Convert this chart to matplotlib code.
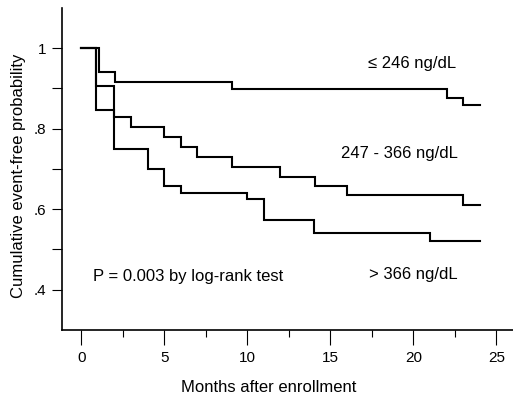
import matplotlib
matplotlib.use("Agg")
import matplotlib.pyplot as plt
from matplotlib.ticker import FixedLocator

plt.rcParams['font.family'] = ['Liberation Sans', 'DejaVu Sans']

# Data (Kaplan-Meier step curves)
t_low = [0, 1.1, 2.05, 9.07, 22.0, 23.0, 24]
s_low = [1.0, 0.94, 0.917, 0.899, 0.877, 0.858, 0.858]

t_mid = [0, 0.9, 2.0, 3.0, 5.0, 6.0, 7.0, 9.07, 12.0, 14.05, 16.0, 23.0, 24]
s_mid = [1.0, 0.907, 0.828, 0.804, 0.78, 0.755, 0.73, 0.706, 0.681, 0.658, 0.636, 0.611, 0.611]

t_high = [0, 0.9, 2.0, 4.0, 5.0, 6.0, 10.0, 11.0, 14.0, 21.0, 24]
s_high = [1.0, 0.846, 0.75, 0.699, 0.658, 0.641, 0.625, 0.574, 0.541, 0.52, 0.52]

labels = ["\u2264 246 ng/dL", "247 - 366 ng/dL", "> 366 ng/dL"]
x_ticks = [0, 5, 10, 15, 20, 25]
y_ticks = [0.4, 0.6, 0.8, 1.0]
y_ticklabels = [".4", ".6", ".8", "1"]

fig = plt.figure(figsize=(5.13, 3.97), dpi=100)
ax = fig.add_axes([0.1203, 0.1688, 0.8797, 0.8112])

for t, s in [(t_low, s_low), (t_mid, s_mid), (t_high, s_high)]:
    ax.step(t, s, where='post', color='black', lw=1.5, solid_joinstyle='miter')

ax.set_xlim(-1.17, 26.0)
ax.set_ylim(0.3, 1.1)

for sp in ['top', 'right']:
    ax.spines[sp].set_visible(False)
for sp in ['left', 'bottom']:
    ax.spines[sp].set_linewidth(1.2)

ax.set_xticks(x_ticks)
ax.xaxis.set_minor_locator(FixedLocator([2.5, 7.5, 12.5, 17.5, 22.5]))
ax.set_yticks(y_ticks)
ax.set_yticklabels(y_ticklabels)
ax.yaxis.set_minor_locator(FixedLocator([0.5, 0.7, 0.9]))

ax.tick_params(axis='x', which='major', length=11, width=0.8, direction='out', labelsize=11, pad=4)
ax.tick_params(axis='x', which='minor', length=5, width=0.8, direction='out')
ax.tick_params(axis='y', which='both', length=7, width=0.8, direction='out', labelsize=11, pad=4)

ax.set_xlabel("Months after enrollment", fontsize=12)
ax.xaxis.set_label_coords(0.459, -0.155)
ax.set_ylabel("Cumulative event-free probability", fontsize=12)
ax.yaxis.set_label_coords(-0.08, 0.478)

ax.text(17.3, 0.962, labels[0], fontsize=12, va='center', ha='left')
ax.text(15.64, 0.739, labels[1], fontsize=12, va='center', ha='left')
ax.text(17.35, 0.437, labels[2], fontsize=12, va='center', ha='left')
ax.text(0.72, 0.433, "P = 0.003 by log-rank test", fontsize=12, va='center', ha='left')

fig.savefig("out.png", dpi=100)
